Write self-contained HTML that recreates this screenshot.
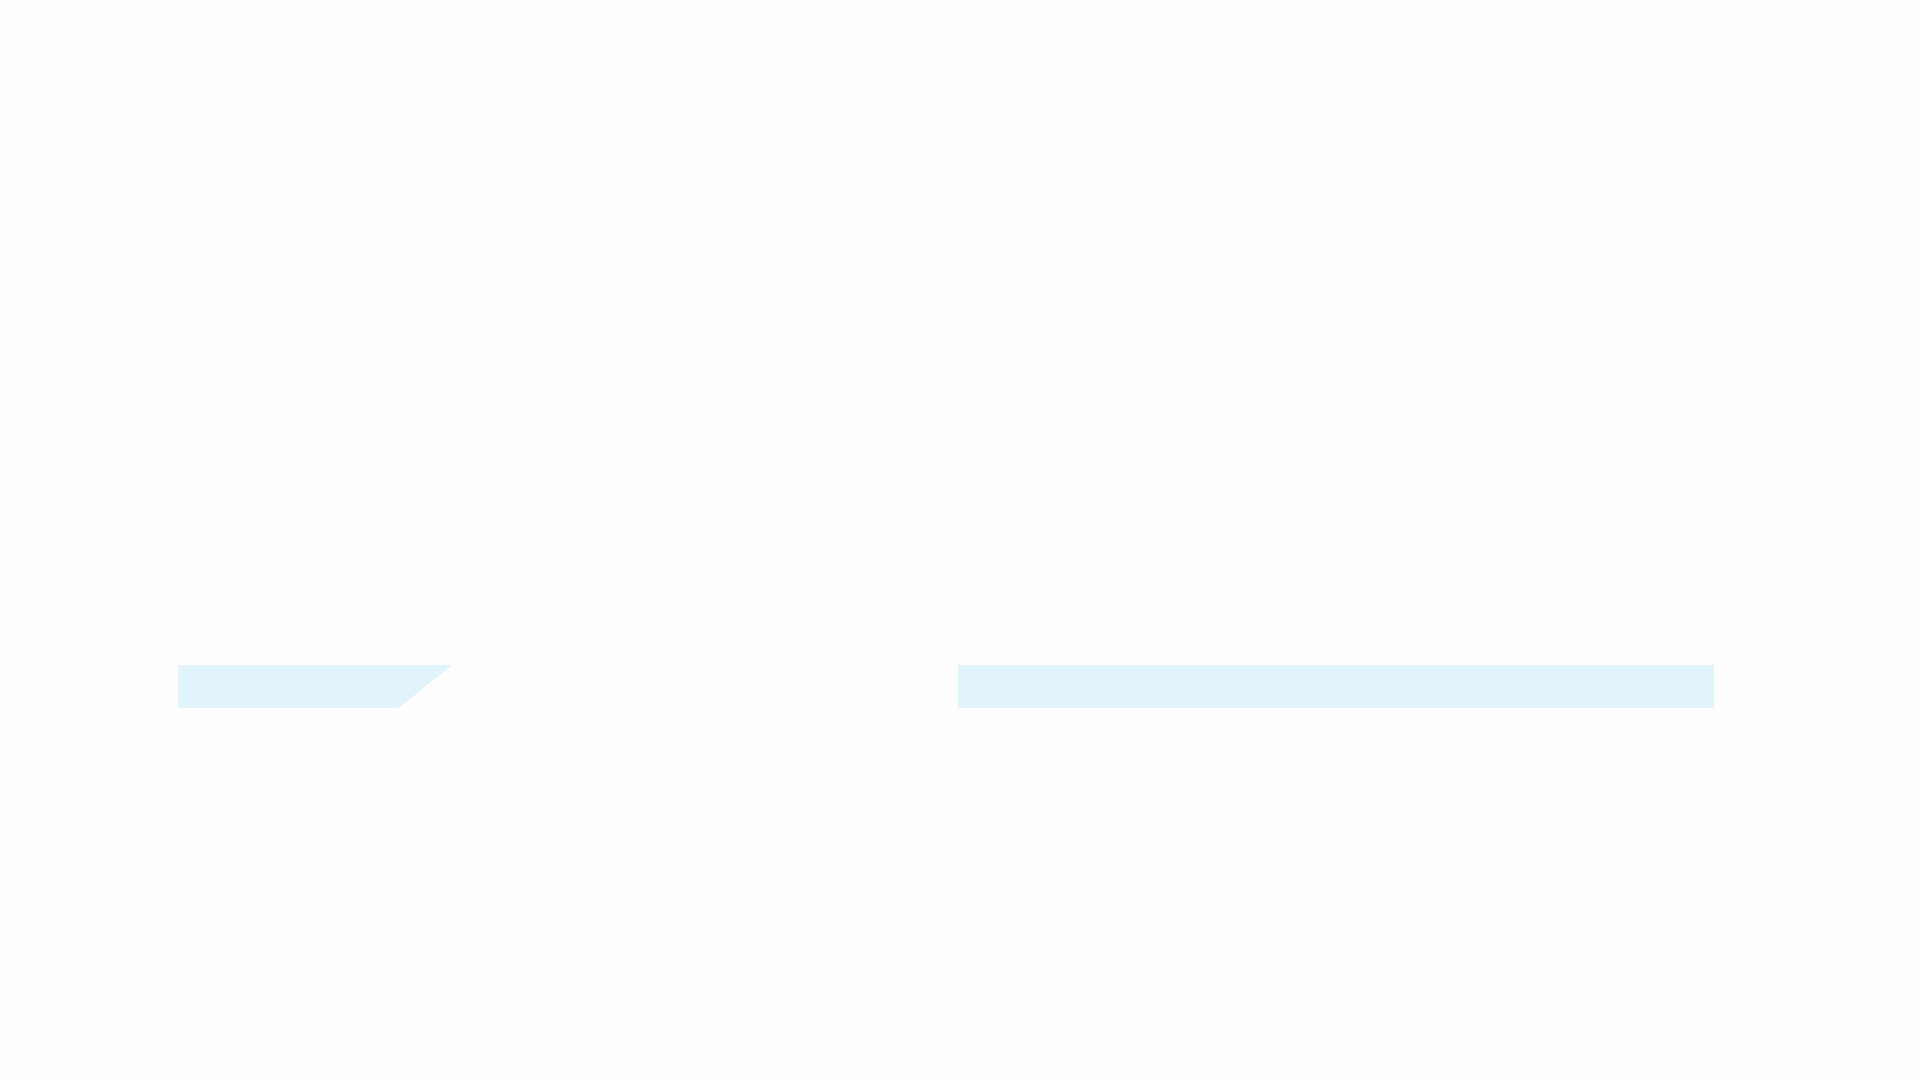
<!DOCTYPE html>
<html><head><meta charset="utf-8"><style>
html,body{margin:0;padding:0;background:#fefefe;width:1920px;height:1080px;overflow:hidden}
</style></head><body>
<svg width="1920" height="1080" viewBox="0 0 1920 1080" xmlns="http://www.w3.org/2000/svg">
<rect width="1920" height="1080" fill="#fefefe"/>
<polygon points="178,665 452,665 399,708 178,708" fill="#e1f4fc"/>
<rect x="958" y="665" width="756" height="43" fill="#e1f4fc"/>
</svg>
</body></html>
